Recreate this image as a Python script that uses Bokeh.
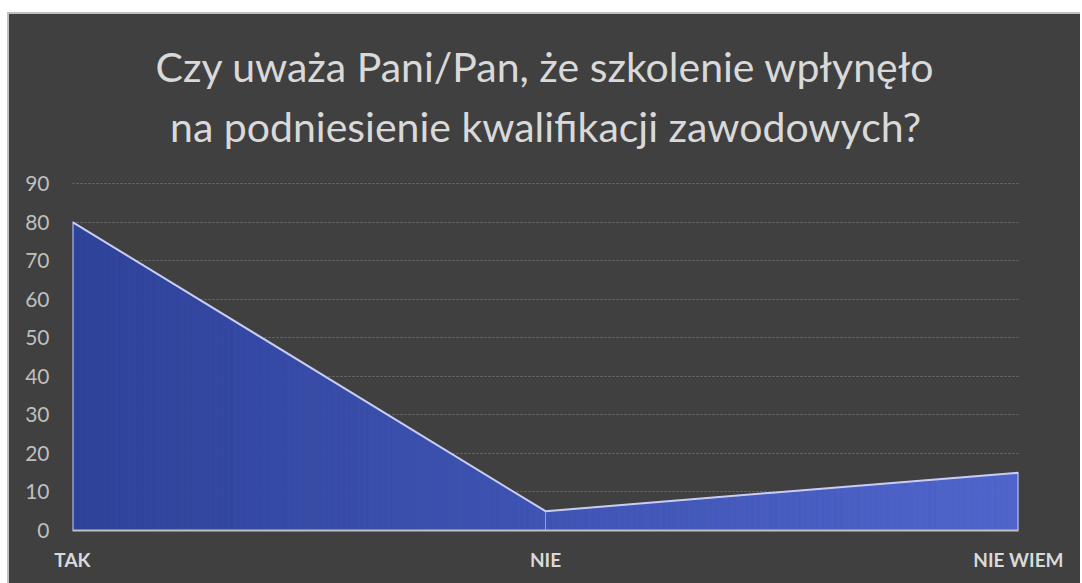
import numpy as np
from bokeh.plotting import figure
from bokeh.models import Range1d, FixedTicker, Label, ColumnDataSource
from bokeh.embed import file_html
from bokeh.resources import INLINE

# ---- data ----
categories = ["TAK", "NIE", "NIE WIEM"]
values = [80, 5, 15]
y_ticks = [0, 10, 20, 30, 40, 50, 60, 70, 80, 90]
title_lines = ["Czy uważa Pani/Pan, że szkolenie wpłynęło",
               "na podniesienie kwalifikacji zawodowych?"]

BG = "#404040"
FONT = "Lato"

xpos = list(range(len(categories)))
YMAX = 90

# layout geometry (pixels)
H, BOTTOM = 571, 55
frame_h = H - BOTTOM
px_per_unit = 347 / YMAX          # 0..90 occupies 347 px
y_top = frame_h / px_per_unit     # frame extends up to the figure top (title area)

p = figure(width=1073, height=H, output_backend="svg", toolbar_location=None,
           x_range=Range1d(0, len(categories) - 1), y_range=Range1d(0, y_top),
           min_border_left=63, min_border_right=64, min_border_bottom=BOTTOM, min_border_top=0,
           background_fill_color=BG, border_fill_color=BG, outline_line_color=None,
           styles={"position": "fixed", "left": "7px", "top": "12px",
                   "background-color": BG,
                   "border-left": "2px solid #bfbfbf", "border-top": "2px solid #bfbfbf"})

# title: two centred lines (baselines above the axis, in pixels)
for line, up_px in zip(title_lines, [464, 404]):
    p.add_layout(Label(x=(xpos[0] + xpos[-1]) / 2, y=up_px / px_per_unit,
                       text=line, text_align="center", text_baseline="alphabetic",
                       text_font=FONT, text_font_size="41px", text_color="#d9d9d9"))

# horizontal dotted grid lines
p.xgrid.visible = False
p.ygrid.visible = False
p.hspan(y=y_ticks[1:], line_color="#6e6e6e", line_dash="2 2", line_width=1)

# gradient fill via thin vertical strips under the data line
c0 = np.array([0x2f, 0x43, 0x9b])
c1 = np.array([0x50, 0x66, 0xcc])
n = 160
edges = np.linspace(xpos[0], xpos[-1], n + 1)
xs, ys, cols = [], [], []
for k in range(n):
    a, b = edges[k], edges[k + 1]
    ya, yb = np.interp(a, xpos, values), np.interp(b, xpos, values)
    xs.append([a, b, b, a])
    ys.append([0, 0, yb, ya])
    t = (k + 0.5) / n
    c = (c0 * (1 - t) + c1 * t).astype(int)
    cols.append("#%02x%02x%02x" % tuple(c))
p.patches(xs="xs", ys="ys", fill_color="c", line_color="c", line_width=0.8,
          source=ColumnDataSource(dict(xs=xs, ys=ys, c=cols)))

# outline of area
ox = [xpos[0]] + xpos + [xpos[-1]]
oy = [0] + values + [0]
p.line(ox, oy, line_color="#c9cdf2", line_width=2)
# faint seam at middle category
p.segment(x0=xpos[1:-1], y0=[0] * (len(xpos) - 2), x1=xpos[1:-1], y1=values[1:-1],
          line_color="#c9cdf2", line_width=1, line_alpha=0.6)

# axes
p.yaxis.ticker = FixedTicker(ticks=y_ticks)
p.yaxis.axis_line_color = None
p.yaxis.major_tick_line_color = None
p.yaxis.minor_tick_line_color = None
p.yaxis.major_label_text_font = FONT
p.yaxis.major_label_text_font_size = "21px"
p.yaxis.major_label_text_color = "#bfbfbf"
p.yaxis.major_label_standoff = 17

p.xaxis.ticker = FixedTicker(ticks=xpos)
p.xaxis.major_label_overrides = {i: c for i, c in zip(xpos, categories)}
p.xaxis.axis_line_color = "#bfbfbf"
p.xaxis.axis_line_width = 2
p.xaxis.major_tick_line_color = None
p.xaxis.minor_tick_line_color = None
p.xaxis.major_label_text_font = FONT
p.xaxis.major_label_text_font_size = "19px"
p.xaxis.major_label_text_font_style = "bold"
p.xaxis.major_label_text_color = "#d9d9d9"
p.xaxis.major_label_standoff = 11

open("out.html", "w").write(file_html(p, INLINE))
